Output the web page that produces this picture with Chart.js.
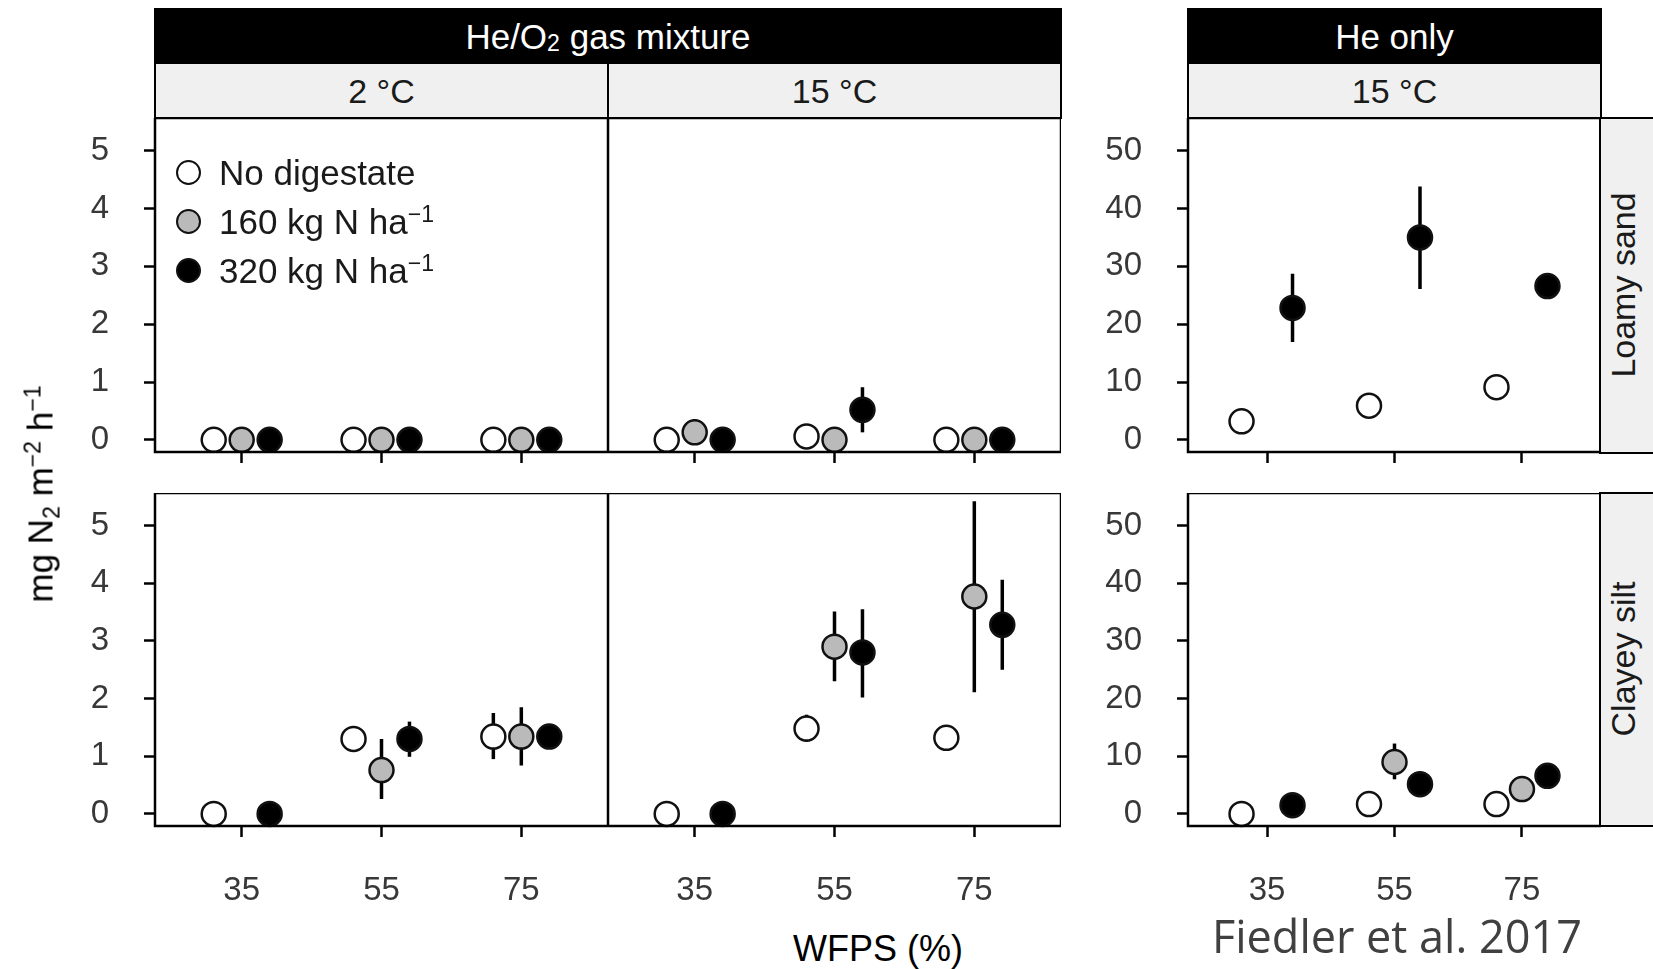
<!DOCTYPE html>
<html>
<head>
<meta charset="utf-8">
<title>N2-Flüsse – Fiedler et al. 2017</title>
<script src="https://cdn.jsdelivr.net/npm/chart.js@4.4.1/dist/chart.umd.min.js"></script>
<style>
  html, body { margin: 0; padding: 0; background: #fff; }
  body {
    width: 1653px; height: 969px; overflow: hidden; position: relative;
    font-family: "Liberation Sans", Arial, sans-serif; color: #1a1a1a;
  }
  .abs { position: absolute; }
  .head, .strip {
    position: absolute; box-sizing: border-box; border: 2.5px solid #000;
    display: flex; align-items: center; justify-content: center;
    font-size: 34px; line-height: 1; white-space: nowrap;
  }
  .head { background: #000; color: #fff; font-size: 35px; }
  .strip { background: #f0f0f0; color: #1a1a1a; }
  .vtext {
    position: absolute; white-space: nowrap; line-height: 1;
    transform: translate(-50%, -50%) rotate(-90deg);
  }
  .sup { position: relative; top: -0.5em; font-size: 0.66em; }
  .sub { position: relative; top: 0.32em; font-size: 0.66em; }
  .panel { position: absolute; }
  .leg-row { position: absolute; height: 36px; display: flex; align-items: center; font-size: 35px; line-height: 1; white-space: nowrap; }
  .leg-dot { width: 25px; height: 25px; box-sizing: border-box; border: 2.5px solid #111; border-radius: 50%; margin-right: 18px; }
</style>
</head>
<body>

<!-- Kopfzeilen (Facetten-Streifen) -->
<div class="head" style="left:154px;top:8px;width:908px;height:56px;">He/O<span class="sub">2</span>&nbsp;gas mixture</div>
<div class="head" style="left:1187px;top:8px;width:415px;height:56px;">He only</div>
<div class="strip" style="left:154px;top:62px;width:455px;height:57px;">2 °C</div>
<div class="strip" style="left:607px;top:62px;width:455px;height:57px;">15 °C</div>
<div class="strip" style="left:1187px;top:62px;width:415px;height:57px;">15 °C</div>

<!-- Zeilen-Streifen rechts -->
<div class="strip" style="left:1599px;top:117px;width:80px;height:337px;"></div>
<div class="strip" style="left:1599px;top:492px;width:80px;height:335px;"></div>
<div class="vtext" style="left:1623px;top:285px;font-size:34px;">Loamy sand</div>
<div class="vtext" style="left:1623px;top:659px;font-size:34px;">Clayey silt</div>

<div id="panels"></div>

<!-- Achsentitel -->
<div class="vtext" style="left:40px;top:494px;font-size:35px;color:#000;">mg N<span class="sub">2</span> m<span class="sup">−2</span> h<span class="sup">−1</span></div>
<div class="abs" style="left:878px;top:949px;transform:translate(-50%,-50%);font-size:36px;line-height:1;color:#000;white-space:nowrap;">WFPS (%)</div>

<!-- Legende (im Panel oben links) -->
<div id="legend"></div>

<div class="abs" style="left:1212px;top:905px;font-family:'Open Sans',sans-serif;font-size:45px;color:#404040;white-space:nowrap;">Fiedler et al. 2017</div>

<script>
// ---------------------------------------------------------------------------
//  Daten – N2-Fluss (mg N2 m-2 h-1), Mittelwert; null = nicht vorhanden.
//  *_err: [untere, obere] Fehlerbalkengrenze je WFPS-Stufe.
// ---------------------------------------------------------------------------
const WFPS = ['35', '55', '75'];
const TREATMENTS = ['No digestate', '160 kg N ha', '320 kg N ha'];
const Y_TICKS_MIX = [0, 1, 2, 3, 4, 5];
const Y_TICKS_HE = [0, 10, 20, 30, 40, 50];

// Loamy sand – He/O2, 2 °C
const lsMix2_none = [0, 0, 0];
const lsMix2_160 = [0, 0, 0];
const lsMix2_320 = [0, 0, 0];

// Loamy sand – He/O2, 15 °C
const lsMix15_none = [0, 0.06, 0];
const lsMix15_160 = [0.13, 0, 0];
const lsMix15_320 = [0, 0.52, 0];
const lsMix15_160_err = [[0, 0.36], null, null];
const lsMix15_320_err = [null, [0.13, 0.91], null];

// Loamy sand – He only, 15 °C
const lsHe_none = [3.2, 5.9, 9.1];
const lsHe_160 = [null, null, null];
const lsHe_320 = [22.8, 35.0, 26.6];
const lsHe_none_err = [null, [3.8, 8.0], null];
const lsHe_320_err = [[16.9, 28.7], [26.1, 43.8], null];

// Clayey silt – He/O2, 2 °C
const csMix2_none = [0, 1.30, 1.34];
const csMix2_160 = [null, 0.76, 1.34];
const csMix2_320 = [0, 1.30, 1.34];
const csMix2_none_err = [null, null, [0.95, 1.75]];
const csMix2_160_err = [null, [0.26, 1.30], [0.84, 1.85]];
const csMix2_320_err = [null, [0.99, 1.60], null];

// Clayey silt – He/O2, 15 °C
const csMix15_none = [0, 1.48, 1.32];
const csMix15_160 = [null, 2.90, 3.77];
const csMix15_320 = [0, 2.80, 3.28];
const csMix15_none_err = [null, [1.25, 1.72], null];
const csMix15_160_err = [null, [2.30, 3.51], [2.11, 5.42]];
const csMix15_320_err = [null, [2.02, 3.55], [2.50, 4.06]];

// Clayey silt – He only, 15 °C
const csHe_none = [0, 1.7, 1.7];
const csHe_160 = [null, 9.0, 4.3];
const csHe_320 = [1.5, 5.15, 6.6];
const csHe_160_err = [null, [6.0, 12.2], null];

// ---------------------------------------------------------------------------
//  Darstellung
// ---------------------------------------------------------------------------
const FILL = ['#ffffff', '#bababa', '#000000'];
const DODGE = [-0.2, 0, 0.2];            // position_dodge wie im Original
const X_RANGE = [0.38, 3.62];
const Y_RANGE_MIX = [-0.21, 5.565];
const Y_RANGE_HE = [-2.1, 55.65];

const COLS = [{ left: 155, w: 453 }, { left: 608, w: 453 }, { left: 1188, w: 413 }];
const ROWS = [{ top: 118, h: 334 }, { top: 493, h: 333 }];

const PANELS = [
  { col: 0, row: 0, showY: true,  yTicks: Y_TICKS_MIX, yRange: Y_RANGE_MIX,
    means: [lsMix2_none, lsMix2_160, lsMix2_320], errs: [null, null, null] },
  { col: 1, row: 0, showY: false, yTicks: Y_TICKS_MIX, yRange: Y_RANGE_MIX,
    means: [lsMix15_none, lsMix15_160, lsMix15_320], errs: [null, lsMix15_160_err, lsMix15_320_err] },
  { col: 2, row: 0, showY: true,  yTicks: Y_TICKS_HE, yRange: Y_RANGE_HE,
    means: [lsHe_none, lsHe_160, lsHe_320], errs: [lsHe_none_err, null, lsHe_320_err] },
  { col: 0, row: 1, showY: true,  yTicks: Y_TICKS_MIX, yRange: Y_RANGE_MIX,
    means: [csMix2_none, csMix2_160, csMix2_320], errs: [csMix2_none_err, csMix2_160_err, csMix2_320_err] },
  { col: 1, row: 1, showY: false, yTicks: Y_TICKS_MIX, yRange: Y_RANGE_MIX,
    means: [csMix15_none, csMix15_160, csMix15_320], errs: [csMix15_none_err, csMix15_160_err, csMix15_320_err] },
  { col: 2, row: 1, showY: true,  yTicks: Y_TICKS_HE, yRange: Y_RANGE_HE,
    means: [csHe_none, csHe_160, csHe_320], errs: [null, csHe_160_err, null] },
];

Chart.defaults.font.family = '"Liberation Sans", Arial, sans-serif';

// Schwarzer Rahmen um jedes Panel (panel.border).
const panelFrame = {
  id: 'panelFrame',
  afterDraw(chart) {
    const { ctx, chartArea: a } = chart;
    ctx.save();
    ctx.strokeStyle = '#000';
    ctx.lineWidth = 2.5;
    ctx.strokeRect(a.left, a.top, a.right - a.left, a.bottom - a.top);
    ctx.restore();
  },
};

// Feste Achsenmaße, keine automatische Label-Polsterung.
function fixAxis(size, horizontal) {
  return (s) => {
    if (horizontal) s.height = size; else s.width = size;
    s.paddingTop = 0;
    s.paddingBottom = 0;
    s.paddingLeft = 0;
    s.paddingRight = 0;
  };
}

function buildDatasets(p) {
  const sets = [];
  p.means.forEach((vals, s) => {
    const pts = [];
    vals.forEach((v, i) => { if (v !== null) pts.push({ x: i + 1 + DODGE[s], y: v }); });
    if (pts.length) {
      sets.push({
        type: 'scatter',
        label: TREATMENTS[s],
        data: pts,
        pointRadius: 12,
        borderWidth: 2.5,
        borderColor: '#111',
        backgroundColor: FILL[s],
        order: 3 - s,
        clip: false,
      });
    }
    const err = p.errs[s];
    if (err) {
      // Fehlerbalken als unterbrochene Linie (null trennt die Segmente).
      const seg = [];
      err.forEach((e, i) => {
        if (!e) return;
        const x = i + 1 + DODGE[s];
        seg.push({ x, y: e[0] }, { x, y: e[1] }, { x, y: null });
      });
      sets.push({
        type: 'line',
        label: TREATMENTS[s] + ' SE',
        data: seg,
        borderColor: '#000',
        borderWidth: 3.5,
        pointRadius: 0,
        spanGaps: false,
        fill: false,
        order: 10,
        clip: false,
      });
    }
  });
  return sets;
}

const host = document.getElementById('panels');

PANELS.forEach((p) => {
  const col = COLS[p.col];
  const row = ROWS[p.row];
  const axisL = p.showY ? 100 : 0;
  const axisB = p.row === 1 ? 95 : 13;
  const showX = p.row === 1;

  const wrap = document.createElement('div');
  wrap.className = 'panel';
  wrap.style.left = (col.left - axisL) + 'px';
  wrap.style.top = row.top + 'px';
  const canvas = document.createElement('canvas');
  canvas.width = col.w + axisL;
  canvas.height = row.h + axisB;
  wrap.appendChild(canvas);
  host.appendChild(wrap);

  const tickGrid = {
    drawOnChartArea: false,
    drawTicks: true,
    tickLength: 11,
    tickWidth: 2.5,
    tickColor: '#000',
  };

  new Chart(canvas.getContext('2d'), {
    type: 'scatter',
    data: { datasets: buildDatasets(p) },
    options: {
      responsive: false,
      animation: false,
      events: [],
      layout: { padding: 0, autoPadding: false },
      plugins: { legend: { display: false }, tooltip: { enabled: false } },
      scales: {
        x: {
          type: 'linear',
          min: X_RANGE[0],
          max: X_RANGE[1],
          afterBuildTicks: (s) => { s.ticks = WFPS.map((_, i) => ({ value: i + 1 })); },
          afterFit: fixAxis(axisB, true),
          grid: tickGrid,
          border: { display: false },
          ticks: {
            display: showX,
            autoSkip: false,
            maxRotation: 0,
            padding: 34,
            color: '#383838',
            font: { size: 33 },
            callback: (v) => WFPS[Math.round(v) - 1],
          },
        },
        y: {
          type: 'linear',
          display: p.showY,
          min: p.yRange[0],
          max: p.yRange[1],
          afterBuildTicks: (s) => { s.ticks = p.yTicks.map((v) => ({ value: v })); },
          afterFit: fixAxis(axisL, false),
          grid: tickGrid,
          border: { display: false },
          ticks: {
            padding: 35,
            color: '#383838',
            font: { size: 33 },
          },
        },
      },
    },
    plugins: [panelFrame],
  });
});

// Legende: Kreis + Text, Exponent als echtes Hochstellen.
const LEG_Y = [172, 221, 270];
const legend = document.getElementById('legend');
TREATMENTS.forEach((t, s) => {
  const row = document.createElement('div');
  row.className = 'leg-row';
  row.style.left = '176px';
  row.style.top = (LEG_Y[s] - 18) + 'px';
  const dot = document.createElement('span');
  dot.className = 'leg-dot';
  dot.style.background = FILL[s];
  const txt = document.createElement('span');
  txt.innerHTML = s === 0 ? t : t + '<span class="sup">−1</span>';
  row.appendChild(dot);
  row.appendChild(txt);
  legend.appendChild(row);
});
</script>
</body>
</html>
